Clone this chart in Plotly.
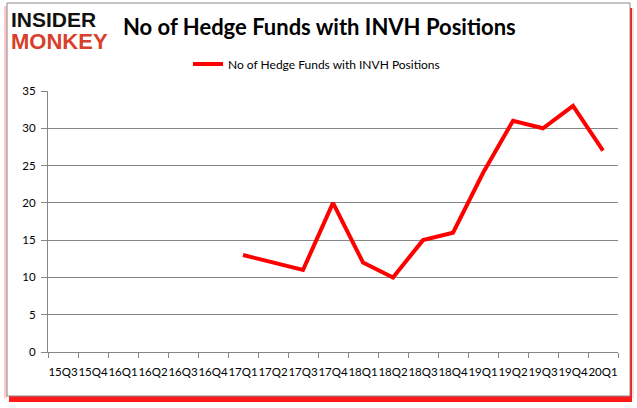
import plotly.graph_objects as go

quarters = ["15Q3", "15Q4", "16Q1", "16Q2", "16Q3", "16Q4", "17Q1", "17Q2", "17Q3", "17Q4",
            "18Q1", "18Q2", "18Q3", "18Q4", "19Q1", "19Q2", "19Q3", "19Q4", "20Q1"]
funds = [None, None, None, None, None, None, 13, 12, 11, 20,
         12, 10, 15, 16, 24, 31, 30, 33, 27]
y_ticks = [0, 5, 10, 15, 20, 25, 30, 35]

W, H = 637, 408
L, R, T, B = 48, 19, 91, 56
pw, ph = W - L - R, H - T - B


def px(x):
    return (x - L) / pw


def py(y):
    return (H - B - y) / ph


fig = go.Figure()
fig.add_trace(go.Scatter(
    x=quarters, y=funds, mode="lines",
    name="No of Hedge Funds with INVH Positions",
    line=dict(color="#ff0000", width=4),
    connectgaps=False,
))

shapes = [
    # soft left glow
    dict(type="rect", xref="paper", yref="paper", layer="below",
         x0=px(4), x1=px(7), y0=py(398), y1=py(6),
         fillcolor="rgba(255,130,130,0.45)", line=dict(width=0)),
    # faint right glow
    dict(type="rect", xref="paper", yref="paper", layer="below",
         x0=px(630), x1=px(634), y0=py(398), y1=py(8),
         fillcolor="rgba(255,150,150,0.3)", line=dict(width=0)),
    # bottom shadow
    dict(type="rect", xref="paper", yref="paper", layer="below",
         x0=px(9), x1=px(632), y0=py(402), y1=py(8),
         fillcolor="rgba(255,0,0,0.9)", line=dict(width=0)),
    # white card with gray border
    dict(type="rect", xref="paper", yref="paper", layer="below",
         x0=px(7), x1=px(630), y0=py(396), y1=py(3),
         fillcolor="white", line=dict(color="#8a8a8a", width=1)),
]

annotations = [
    dict(text="<b>INSIDER</b>", x=px(9), y=py(20), xref="paper", yref="paper",
         xanchor="left", yanchor="middle", showarrow=False,
         font=dict(family="Liberation Sans", size=21, color="#111111")),
    dict(text="<b>MONKEY</b>", x=px(9), y=py(42), xref="paper", yref="paper",
         xanchor="left", yanchor="middle", showarrow=False,
         font=dict(family="Liberation Sans", size=22, color="#d8402c")),
    dict(text="<b>No of Hedge Funds with INVH Positions</b>", x=px(121), y=py(27),
         xref="paper", yref="paper", xanchor="left", yanchor="middle", showarrow=False,
         font=dict(family="Lato", size=22, color="#000000")),
]

fig.update_layout(
    width=W, height=H,
    margin=dict(l=L, r=R, t=T, b=B, pad=0),
    paper_bgcolor="white", plot_bgcolor="rgba(0,0,0,0)",
    shapes=shapes, annotations=annotations,
    showlegend=True,
    legend=dict(orientation="h", x=px(188), y=py(64), xanchor="left", yanchor="middle",
                font=dict(family="Lato", size=12, color="#000000"),
                bgcolor="rgba(0,0,0,0)", itemwidth=30),
    xaxis=dict(type="category", range=[-0.5, 18.5], showgrid=False,
               showline=True, linecolor="#868686", linewidth=1,
               ticks="outside", tickson="boundaries", ticklen=5, tickcolor="#868686",
               ticklabelstandoff=9,
               tickfont=dict(family="Lato", size=11.5, color="#000000"),
               tickangle=0, fixedrange=True),
    yaxis=dict(range=[0, 35], tickvals=y_ticks, showgrid=True, gridcolor="#868686",
               gridwidth=1, showline=True, linecolor="#868686", linewidth=1,
               ticks="outside", ticklen=6, tickcolor="#868686", zeroline=False,
               ticklabelstandoff=3,
               tickfont=dict(family="Lato", size=11.5, color="#000000"),
               fixedrange=True),
    font=dict(family="Lato"),
)

fig.write_html("out.html", config={"displayModeBar": False},
               post_script="document.body.style.margin='0';document.body.style.padding='0';")
